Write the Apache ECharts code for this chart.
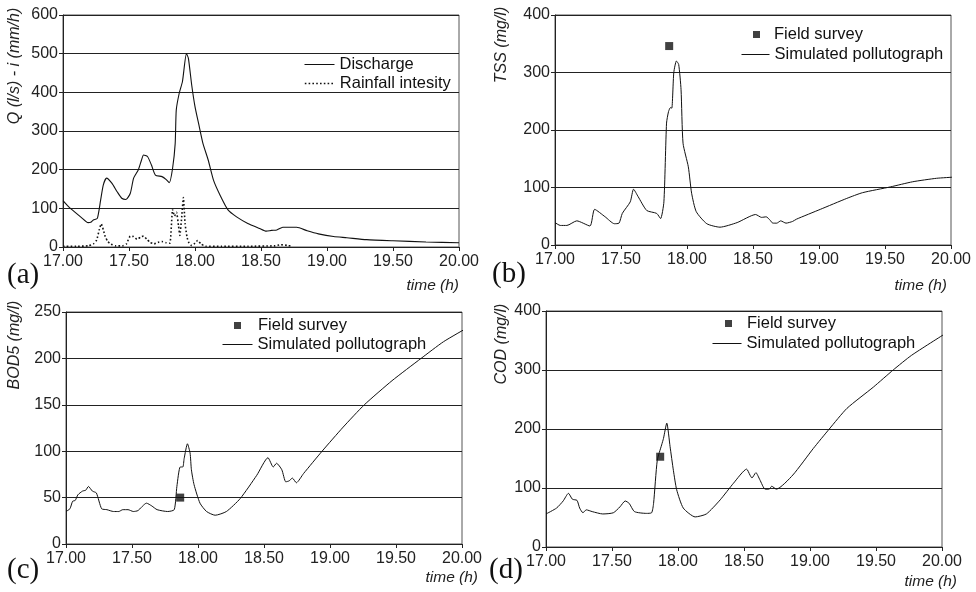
<!DOCTYPE html>
<html>
<head>
<meta charset="utf-8">
<script src="https://cdn.jsdelivr.net/npm/echarts@6/dist/echarts.min.js"></script>
<style>
  html, body { margin: 0; padding: 0; background: #fff; }
  #chart { width: 976px; height: 592px; }
</style>
</head>
<body>
<div id="chart"></div>
<script>
// ---- (a) discharge and rainfall intensity ----
const dischargeTime = [17.00, 17.04, 17.09, 17.14, 17.19, 17.21, 17.23, 17.26, 17.285, 17.305, 17.33, 17.37, 17.41, 17.445, 17.477, 17.51, 17.535, 17.57, 17.595, 17.61, 17.64, 17.67, 17.70, 17.75, 17.78, 17.805, 17.83, 17.85, 17.858, 17.88, 17.905, 17.935, 17.95, 17.975, 18.00, 18.03, 18.06, 18.10, 18.14, 18.19, 18.25, 18.315, 18.40, 18.49, 18.54, 18.58, 18.62, 18.665, 18.77, 18.85, 18.935, 19.05, 19.15, 19.30, 19.50, 19.75, 20.00];
const dischargeQ = [120, 105, 90, 76, 63, 64, 70, 74, 121, 160, 178, 165, 143, 126, 123, 139, 178, 199, 225, 238, 234, 212, 186, 182, 175, 166, 203, 268, 354, 397, 428, 500, 488, 419, 363, 315, 268, 225, 173, 134, 96, 78, 61, 48, 41, 43, 44, 51, 51, 42, 34, 27, 24, 19, 16, 13, 11];

const rainTime = [17.00, 17.10, 17.19, 17.23, 17.255, 17.275, 17.29, 17.305, 17.32, 17.34, 17.36, 17.40, 17.45, 17.48, 17.51, 17.535, 17.56, 17.59, 17.61, 17.635, 17.66, 17.69, 17.72, 17.75, 17.78, 17.81, 17.83, 17.845, 17.86, 17.875, 17.885, 17.90, 17.912, 17.925, 17.94, 17.955, 17.975, 18.00, 18.02, 18.045, 18.08, 18.20, 18.40, 18.60, 18.65, 18.70, 18.73];
const rainI = [2, 2, 3, 8, 18, 45, 60, 45, 27, 14, 8, 3, 3, 8, 28, 27, 20, 26, 28, 20, 12, 8, 12, 14, 11, 10, 97, 80, 90, 55, 30, 80, 128, 60, 25, 10, 4, 10, 17, 8, 2, 2, 2, 3, 6, 4, 2];

// ---- (b) TSS ----
const tssTime = [17.00, 17.04, 17.09, 17.165, 17.265, 17.30, 17.38, 17.45, 17.485, 17.51, 17.57, 17.595, 17.63, 17.695, 17.77, 17.80, 17.825, 17.845, 17.86, 17.875, 17.885, 17.90, 17.92, 17.937, 17.955, 17.97, 18.01, 18.035, 18.07, 18.15, 18.25, 18.38, 18.52, 18.565, 18.60, 18.63, 18.65, 18.68, 18.71, 18.75, 18.80, 18.83, 19.01, 19.21, 19.33, 19.54, 19.71, 19.89, 20.02];
const tssSim = [39, 34, 34, 42, 33, 62, 49, 37, 38, 55, 75, 97, 84, 60, 55, 46, 75, 212, 232, 239, 238, 300, 320, 314, 270, 177, 136, 90, 58, 37, 31, 39, 53, 48, 49, 43, 38, 38, 42, 38, 41, 45, 62, 81, 91, 101, 110, 116, 118];
const tssSurveyTime = [17.865];
const tssSurvey = [346];

// ---- (c) BOD5 ----
const bodTime = [17.00, 17.03, 17.05, 17.07, 17.09, 17.125, 17.15, 17.17, 17.20, 17.23, 17.27, 17.31, 17.36, 17.40, 17.43, 17.47, 17.51, 17.545, 17.61, 17.65, 17.69, 17.77, 17.82, 17.84, 17.865, 17.885, 17.895, 17.92, 17.94, 17.95, 17.97, 18.015, 18.065, 18.13, 18.215, 18.32, 18.445, 18.53, 18.57, 18.595, 18.635, 18.665, 18.69, 18.715, 18.745, 18.80, 18.94, 19.10, 19.26, 19.47, 19.69, 19.86, 20.04];
const bodSim = [35, 38, 46, 47, 53, 57, 58, 62, 57, 55, 38, 37, 35, 35, 37, 37, 35, 36, 44, 41, 37, 35, 37, 62, 83, 83, 92, 108, 98, 80, 64, 44, 35, 31, 35, 49, 74, 93, 83, 87, 80, 67, 68, 71, 66, 76, 100, 126, 150, 176, 200, 218, 233];
const bodSurveyTime = [17.865];
const bodSurvey = [50];

// ---- (d) COD ----
const codTime = [17.00, 17.08, 17.13, 17.17, 17.20, 17.235, 17.255, 17.28, 17.305, 17.35, 17.43, 17.51, 17.56, 17.60, 17.63, 17.67, 17.76, 17.80, 17.815, 17.843, 17.876, 17.89, 17.915, 17.94, 17.965, 17.99, 18.04, 18.13, 18.215, 18.32, 18.42, 18.52, 18.545, 18.56, 18.59, 18.62, 18.66, 18.69, 18.71, 18.745, 18.87, 19.025, 19.146, 19.28, 19.48, 19.63, 19.77, 20.02];
const codSim = [56, 66, 78, 91, 81, 79, 66, 58, 63, 60, 56, 58, 68, 78, 74, 60, 57, 58, 74, 147, 173, 184, 210, 170, 130, 97, 66, 51, 56, 80, 108, 132, 122, 117, 126, 114, 98, 98, 103, 98, 122, 167, 200, 235, 271, 300, 325, 361];
const codSurveyTime = [17.865];
const codSurvey = [153];

// ---- axis ticks ----
const timeTicks = { min: 17, max: 20, interval: 0.5 };
const yScales = [
  { min: 0, max: 600, interval: 100 },
  { min: 0, max: 400, interval: 100 },
  { min: 0, max: 250, interval: 50 },
  { min: 0, max: 400, interval: 100 }
];
const yNames = ['Q (l/s) - i (mm/h)', 'TSS (mg/l)', 'BOD5 (mg/l)', 'COD (mg/l)'];
const panelTags = ['(a)', '(b)', '(c)', '(d)'];

const zip = (xs, ys) => xs.map((x, i) => [x, ys[i]]);

const SANS = '"Liberation Sans", Arial, Helvetica, sans-serif';
const SERIF = '"Liberation Serif", "Times New Roman", serif';
const INK = '#111';

const grids = [
  { left: 63, top: 15, width: 396, height: 232 },
  { left: 555, top: 15, width: 396, height: 230 },
  { left: 66, top: 312, width: 396, height: 232 },
  { left: 546, top: 311, width: 396, height: 236 }
].map(g => Object.assign({ show: true, borderColor: '#555', borderWidth: 1, backgroundColor: 'transparent' }, g));

const xAxes = grids.map((g, i) => ({
  type: 'value', gridIndex: i,
  min: timeTicks.min, max: timeTicks.max, interval: timeTicks.interval,
  axisLine: { show: true, onZero: false, lineStyle: { color: '#222', width: 1 } },
  axisTick: { show: true, inside: false, length: 4, lineStyle: { color: '#222' } },
  axisLabel: { color: '#222', fontFamily: SANS, fontSize: 16, margin: 7,
    formatter: v => v.toFixed(2) },
  splitLine: { show: false }
}));

const yAxes = yScales.map((s, i) => ({
  type: 'value', gridIndex: i, min: s.min, max: s.max, interval: s.interval,
  axisLine: { show: true, lineStyle: { color: '#222', width: 1 } },
  axisTick: { show: true, inside: false, length: 4, lineStyle: { color: '#222' } },
  axisLabel: { color: '#222', fontFamily: SANS, fontSize: 16, margin: 5 },
  splitLine: { show: true, lineStyle: { color: '#222', width: 1 } }
}));

function simLine(name, idx, data, extra) {
  return Object.assign({
    name, type: 'line', xAxisIndex: idx, yAxisIndex: idx,
    data, symbol: 'none', showSymbol: false, smooth: 0.2,
    clip: false, animation: false,
    lineStyle: { color: INK, width: 1 }, itemStyle: { color: INK }
  }, extra || {});
}
function survey(idx, data) {
  return {
    name: 'Field survey', type: 'scatter', xAxisIndex: idx, yAxisIndex: idx,
    data, symbol: 'rect', symbolSize: 8, animation: false,
    itemStyle: { color: INK }
  };
}

const series = [
  simLine('Discharge', 0, zip(dischargeTime, dischargeQ), { lineStyle: { color: INK, width: 1.1 } }),
  simLine('Rainfall intesity', 0, zip(rainTime, rainI), { smooth: 0.15, lineStyle: { color: INK, width: 1.6, type: [1.6, 2.2] } }),
  survey(1, zip(tssSurveyTime, tssSurvey)),
  simLine('Simulated pollutograph', 1, zip(tssTime, tssSim)),
  survey(2, zip(bodSurveyTime, bodSurvey)),
  simLine('Simulated pollutograph', 2, zip(bodTime, bodSim)),
  survey(3, zip(codSurveyTime, codSurvey)),
  simLine('Simulated pollutograph', 3, zip(codTime, codSim))
];

const legendText = { color: '#111', fontFamily: SANS, fontSize: 16.5 };
// line-only keys: the marker that line series add to their key is hidden
function lineLegend(name, left, cy, w, lineWidth) {
  return { data: [name], left, top: cy - 7, padding: 0, itemWidth: w, itemHeight: 14,
    selectedMode: false, itemStyle: { opacity: 0 }, lineStyle: { width: lineWidth },
    textStyle: legendText };
}
function squareLegend(left, cy, gap) {
  return { data: [{ name: 'Field survey', icon: 'rect' }], left, top: cy - 8, padding: 0,
    itemWidth: 7, itemHeight: 7, selectedMode: false,
    textStyle: Object.assign({ padding: [0, 0, 0, gap] }, legendText) };
}
const legends = [
  lineLegend('Discharge', 304, 63, 30, 1),
  lineLegend('Rainfall intesity', 304, 82, 30, 1.6),
  squareLegend(753, 34, 9),
  lineLegend('Simulated pollutograph', 741, 53, 28, 1),
  squareLegend(234, 325, 12),
  lineLegend('Simulated pollutograph', 222, 343, 30, 1),
  squareLegend(725, 323, 10),
  lineLegend('Simulated pollutograph', 712, 342, 29, 1)
];

// axis titles and panel tags
const yNamePos = [[15, 66], [502, 45], [15, 345], [502, 344]];
const timePos = [[459, 286], [947, 286], [478, 578], [957, 582]];
const tagPos = [[7, 275], [492, 274], [7, 570], [489, 570]];
const graphics = [];
yNames.forEach((t, i) => graphics.push({
  type: 'text', x: yNamePos[i][0], y: yNamePos[i][1], rotation: Math.PI / 2,
  style: { text: t, fill: '#222', font: 'italic 16px ' + SANS, align: 'center', verticalAlign: 'middle' }
}));
timePos.forEach(p => graphics.push({
  type: 'text', x: p[0], y: p[1],
  style: { text: 'time (h)', fill: '#222', font: 'italic 15.5px ' + SANS, align: 'right', verticalAlign: 'middle' }
}));
panelTags.forEach((t, i) => graphics.push({
  type: 'text', x: tagPos[i][0], y: tagPos[i][1],
  style: { text: t, fill: '#111', font: '29px ' + SERIF, align: 'left', verticalAlign: 'middle' }
}));

const chart = echarts.init(document.getElementById('chart'), null, { renderer: 'canvas' });
chart.setOption({
  backgroundColor: '#fff',
  animation: false,
  grid: grids,
  xAxis: xAxes,
  yAxis: yAxes,
  legend: legends,
  series: series,
  graphic: graphics
});
</script>
</body>
</html>
